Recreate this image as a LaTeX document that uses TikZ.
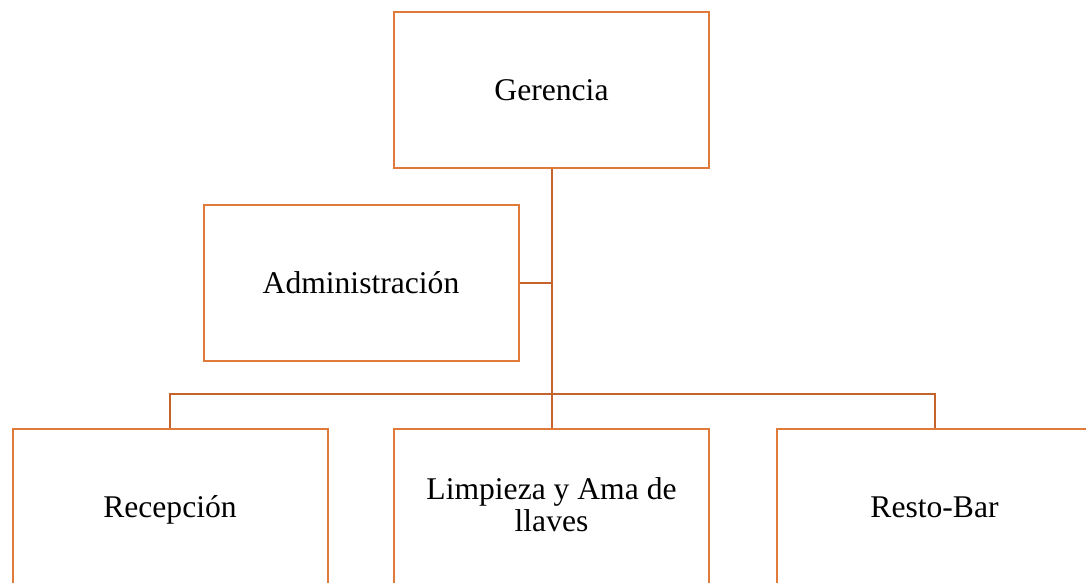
\documentclass[tikz,border=0pt]{standalone}
\usepackage{fontspec}
\setmainfont{Liberation Serif}
\definecolor{boxorange}{HTML}{DF7A3A}
\definecolor{connorange}{HTML}{C4632B}
\begin{document}
\begin{tikzpicture}[x=1pt,y=-1pt,
  orgbox/.style={draw=boxorange, line width=2pt, fill=white, minimum width=315pt, minimum height=156pt, inner sep=0pt, align=center, text height=28pt, text depth=7pt, font=\fontsize{31.6}{32.7}\selectfont},
  conn/.style={draw=connorange, line width=2pt}]
\useasboundingbox (0,0) rectangle (1086,582);
\node[orgbox] (ger) at (551.5,89.5) {Gerencia};
\node[orgbox] (adm) at (361,283) {Administración};
\node[orgbox] (rec) at (170,507) {Recepción};
\node[orgbox, text height=56.4pt] (lim) at (551.5,507) {Limpieza y Ama de\\llaves};
\node[orgbox] (rb) at (934.5,507) {Resto-Bar};
\coordinate (bus) at (551.5,394);
\draw[conn] (ger.south) -- (lim.north);
\draw[conn] (adm.east) -- (adm.east -| ger.south);
\draw[conn] (rec.north) |- (bus) -| (rb.north);
\end{tikzpicture}
\end{document}
